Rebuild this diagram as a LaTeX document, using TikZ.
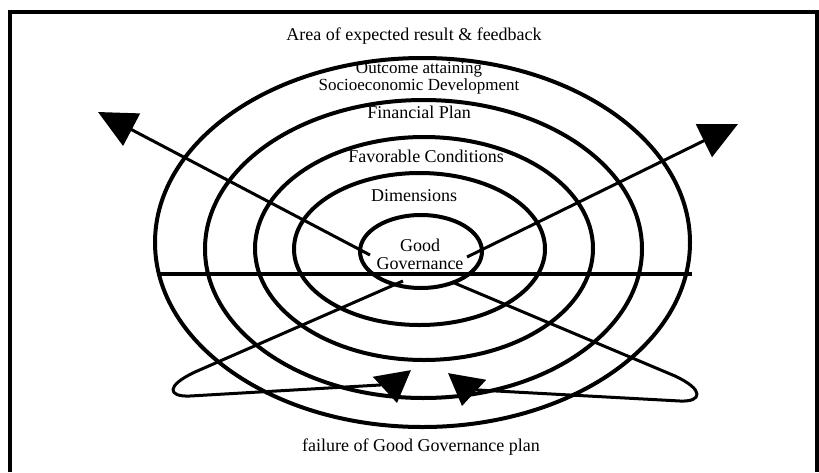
\documentclass[tikz,border=0pt]{standalone}
\usepackage{fontspec}
\setmainfont{Liberation Serif}
\usetikzlibrary{arrows.meta}

\begin{document}
\begin{tikzpicture}[x=1pt,y=-1pt,->,>={Triangle[length=38pt,width=36pt]},
                    line width=3pt,font=\fontsize{18}{18}\selectfont,
                    ring/.style={-,line width=4pt},
                    loopback/.style={-{Triangle[length=30pt,width=38pt]},line join=round}]
  \useasboundingbox (0,0) rectangle (819,472);

  % frame
  \draw[-,line width=4pt] (10,472) -- (10,11.5) -- (817,11.5) -- (817,472);

  % rings
  \draw[ring] (422.5,242.5) ellipse [x radius=267.5,y radius=184.5];
  \draw[ring] (423.5,249)   ellipse [x radius=218.5,y radius=149];
  \draw[ring] (424,248.5)   ellipse [x radius=169,y radius=111.5];
  \draw[ring] (419.5,249)   ellipse [x radius=125.5,y radius=76];
  \draw[ring] (421,251.5)   ellipse [x radius=61,y radius=36.5];
  \coordinate (hleft)  at (157,273.5);
  \coordinate (hright) at (692,273.5);
  \draw[ring] (hleft) -- (hright);

  \node (area)    at (414,36)  {Area of expected result \& feedback};
  \node (outcome) at (419,78)  [align=center,font=\fontsize{17}{15}\selectfont]
        {Outcome attaining\\Socioeconomic Development};
  \node (finplan) at (419,112) {Financial Plan};
  \node (favcond) at (426,156) {Favorable Conditions};
  \node (dims)    at (414,196) {Dimensions};
  \node (gg)      at (420,254) [align=center] {Good\\Governance};
  \node (failure) at (421,447) {failure of Good Governance plan};

  \coordinate (ulstart) at (370,255);
  \coordinate (ultip)   at (98,112);
  \coordinate (urstart) at (467,257);
  \coordinate (urtip)   at (738,124);
  \coordinate (blstart) at (403,281);
  \coordinate (bltip)   at (397,403);
  \coordinate (brstart) at (452,282);
  \coordinate (brtip)   at (462,406);

  \path (ulstart) edge (ultip)
        (urstart) edge (urtip);

  % failure loops
  \draw[loopback] (blstart) -- (195,372) .. controls (165,386) and (168,397) .. (190,396)
        -- (380,385) .. controls (386,383) and (393,380) .. (bltip);
  \draw[loopback] (brstart) -- (675,376) .. controls (705,390) and (702,402) .. (680,401)
        -- (478,390) .. controls (470,389) and (466,383) .. (brtip);
\end{tikzpicture}
\end{document}
